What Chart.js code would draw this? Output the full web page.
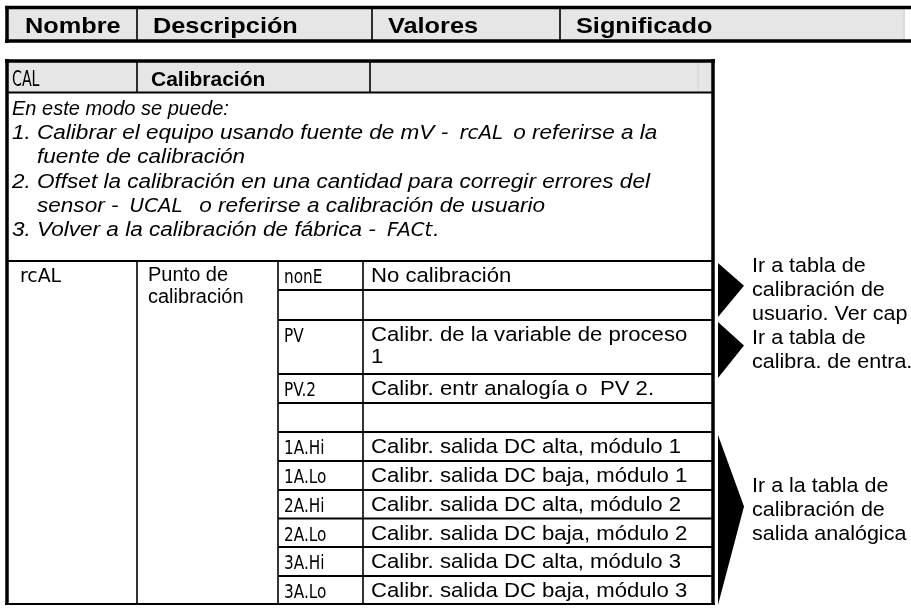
<!DOCTYPE html>
<html>
<head>
<meta charset="utf-8">
<script src="https://cdn.jsdelivr.net/npm/chart.js@4"></script>
<style>
  html, body { margin: 0; padding: 0; background: #fff; }
  canvas { display: block; }
</style>
</head>
<body>
<canvas id="table" width="911" height="609"></canvas>
<script>
// table contents
const headerLabels = ['Nombre', 'Descripción', 'Valores', 'Significado'];
const paramCode = 'CAL';
const paramName = 'Calibración';
const introLines = [
    ['', 'En este modo se puede:'],
    ['1.', 'Calibrar el equipo usando fuente de mV - {rcAL} o referirse a la'],
    ['', 'fuente de calibración'],
    ['2.', 'Offset la calibración en una cantidad para corregir errores del'],
    ['', 'sensor - {UCAL}  o referirse a calibración de usuario'],
    ['3.', 'Volver a la calibración de fábrica - {FACt}.']
];
const subCode = 'rcAL';
const subName = ['Punto de', 'calibración'];
const valueCodes = ['nonE', '', 'PV', 'PV.2', '', '1A.Hi', '1A.Lo', '2A.Hi', '2A.Lo', '3A.Hi', '3A.Lo'];
const valueMeanings = [
    ['No calibración'],
    [],
    ['Calibr. de la variable de proceso', '1'],
    ['Calibr. entr analogía o  PV 2.'],
    [],
    ['Calibr. salida DC alta, módulo 1'],
    ['Calibr. salida DC baja, módulo 1'],
    ['Calibr. salida DC alta, módulo 2'],
    ['Calibr. salida DC baja, módulo 2'],
    ['Calibr. salida DC alta, módulo 3'],
    ['Calibr. salida DC baja, módulo 3']
];
const noteTexts = [
    ['Ir a tabla de', 'calibración de', 'usuario. Ver cap'],
    ['Ir a tabla de', 'calibra. de entra.'],
    ['Ir a la tabla de', 'calibración de', 'salida analógica']
];
const noteRows = [[0, 1], [2, 2], [5, 10]];

// layout (page pixels)
const headCols = [7, 137, 372, 560, 905];
const calCols = [7, 137, 370, 713];
const bodyCols = [7, 137, 278, 363, 713];
const rowHeights = [29, 30, 54, 29, 29, 29, 29, 28.5, 28.5, 29, 28];
const arrowPad = [[2, -3], [2, 4], [3, 1]];
const bodyTop = 261;

const SANS = '"Liberation Sans", Arial, sans-serif';
const SEG = '"Liberation Sans Narrow", "DejaVu Sans Condensed", sans-serif';

const tablePlugin = {
    id: 'tablePlugin',
    afterDraw(chart) {
        const ctx = chart.ctx;
        const X = v => chart.scales.x.getPixelForValue(v);
        const Y = v => chart.scales.y.getPixelForValue(v);

        function line(x1, y1, x2, y2, w, color) {
            ctx.beginPath();
            ctx.moveTo(X(x1), Y(y1));
            ctx.lineTo(X(x2), Y(y2));
            ctx.lineWidth = w;
            ctx.strokeStyle = color || '#000';
            ctx.stroke();
        }
        // text, optionally stretched sideways like the scanned page
        function text(str, x, y, font, sx) {
            sx = sx || 1;
            ctx.save();
            ctx.font = font;
            ctx.fillStyle = '#000';
            ctx.textBaseline = 'alphabetic';
            ctx.translate(X(x), Y(y));
            ctx.scale(sx, 1);
            ctx.fillText(str, 0, 0);
            const w = ctx.measureText(str).width * sx;
            ctx.restore();
            return w;
        }
        function runs(str, x, y, font, codeFont, sx) {
            const parts = str.split(/(\{[^}]*\})/).filter(p => p);
            parts.forEach((part, k) => {
                if (part[0] === '{') {
                    const next = parts[k + 1] || '';
                    x += 5 + text(part.slice(1, -1), x + 5, y, codeFont, 1.1) + (next[0] === ' ' ? 4 : 1);
                } else {
                    x += text(part, x, y, font, sx);
                }
            });
        }

        // header strip
        ctx.fillStyle = '#e6e6e6';
        ctx.fillRect(X(7), Y(8), X(905) - X(7), Y(40) - Y(8));
        line(904, 8, 904, 40, 1, '#cfcfcf');
        headCols.slice(1, -1).forEach(c => line(c, 8, c, 40, 1.6));
        line(5, 7.5, 911, 7.5, 3.5);
        line(5, 41, 911, 41, 3.5);
        line(7, 6, 7, 43, 3.5);
        headerLabels.forEach((h, i) => text(h, headCols[i] + (i ? 16 : 18), 33, 'bold 22px ' + SANS, 1.15));

        // parameter row
        ctx.fillStyle = '#e6e6e6';
        ctx.fillRect(X(7), Y(62), X(713) - X(7), Y(92) - Y(62));
        line(698, 62, 698, 92, 1, '#d4d4d4');
        calCols.slice(1, -1).forEach(c => line(c, 62, c, 92, 1.6));
        line(7, 92.5, 713, 92.5, 2);
        text(paramCode, 12, 86, '21px ' + SEG, 0.75);
        text(paramName, 151, 86, 'bold 21px ' + SANS);

        // intro
        const italicCode = 'italic 20px ' + SEG;
        introLines.forEach((l, i) => {
            const y = 115 + i * 24.2;
            const font = i === 0 ? 'italic 20px ' + SANS : 'italic 20.5px ' + SANS;
            const sx = i === 0 ? 1 : 1.1;
            if (l[0]) text(l[0], 12, y, font, sx);
            runs(l[1], i === 0 ? 12 : 37, y, font, italicCode, sx);
        });

        // body rows
        const bottom = bodyTop + rowHeights.reduce((a, b) => a + b, 0);
        line(7, bodyTop, 713, bodyTop, 1.8);
        text(subCode, 20, bodyTop + 21, '20px ' + SEG, 1.05);
        subName.forEach((s, i) => text(s, 148, bodyTop + 20 + i * 22, '20px ' + SANS));
        let y = bodyTop;
        const rowTops = [];
        rowHeights.forEach((h, i) => {
            rowTops.push(y);
            if (valueCodes[i]) text(valueCodes[i], 284, y + 22, '20px ' + SEG, 0.85);
            valueMeanings[i].forEach((m, k) => text(m, 371, y + 21 + k * 22, '20.5px ' + SANS, 1.08));
            y += h;
            if (i < rowHeights.length - 1) line(bodyCols[2], y, 713, y, 1.8);
        });
        rowTops.push(bottom);
        [bodyCols[1], bodyCols[2], bodyCols[3]].forEach(c => line(c, bodyTop, c, bottom, 1.6));
        line(5, bottom, 715, bottom, 2);

        // outer frame of lower table
        line(5, 61, 715, 61, 3.5);
        line(7, 59, 7, bottom + 1, 3.5);
        line(713, 59, 713, bottom + 1, 3.5);

        // arrows and notes
        noteRows.forEach((r, i) => {
            const t = rowTops[r[0]] + arrowPad[i][0];
            const b = rowTops[r[1] + 1] + arrowPad[i][1];
            const tip = t + (b - t) * 0.42;
            ctx.beginPath();
            ctx.moveTo(X(718), Y(t));
            ctx.lineTo(X(744), Y(tip));
            ctx.lineTo(X(718), Y(b));
            ctx.closePath();
            ctx.fillStyle = '#000';
            ctx.fill();
            const lines = noteTexts[i];
            const first = tip + 10 - (lines.length - 1) * 12;
            lines.forEach((s, k) => text(s, 752, first + k * 24, '20.5px ' + SANS, 1.05));
        });
    }
};

new Chart(document.getElementById('table'), {
    type: 'scatter',
    data: { datasets: [] },
    options: {
        responsive: false,
        animation: false,
        events: [],
        layout: { padding: 0 },
        plugins: { legend: { display: false }, tooltip: { enabled: false } },
        scales: {
            x: { type: 'linear', min: 0, max: 911, display: false },
            y: { type: 'linear', min: 0, max: 609, reverse: true, display: false }
        }
    },
    plugins: [tablePlugin]
});
</script>
</body>
</html>
